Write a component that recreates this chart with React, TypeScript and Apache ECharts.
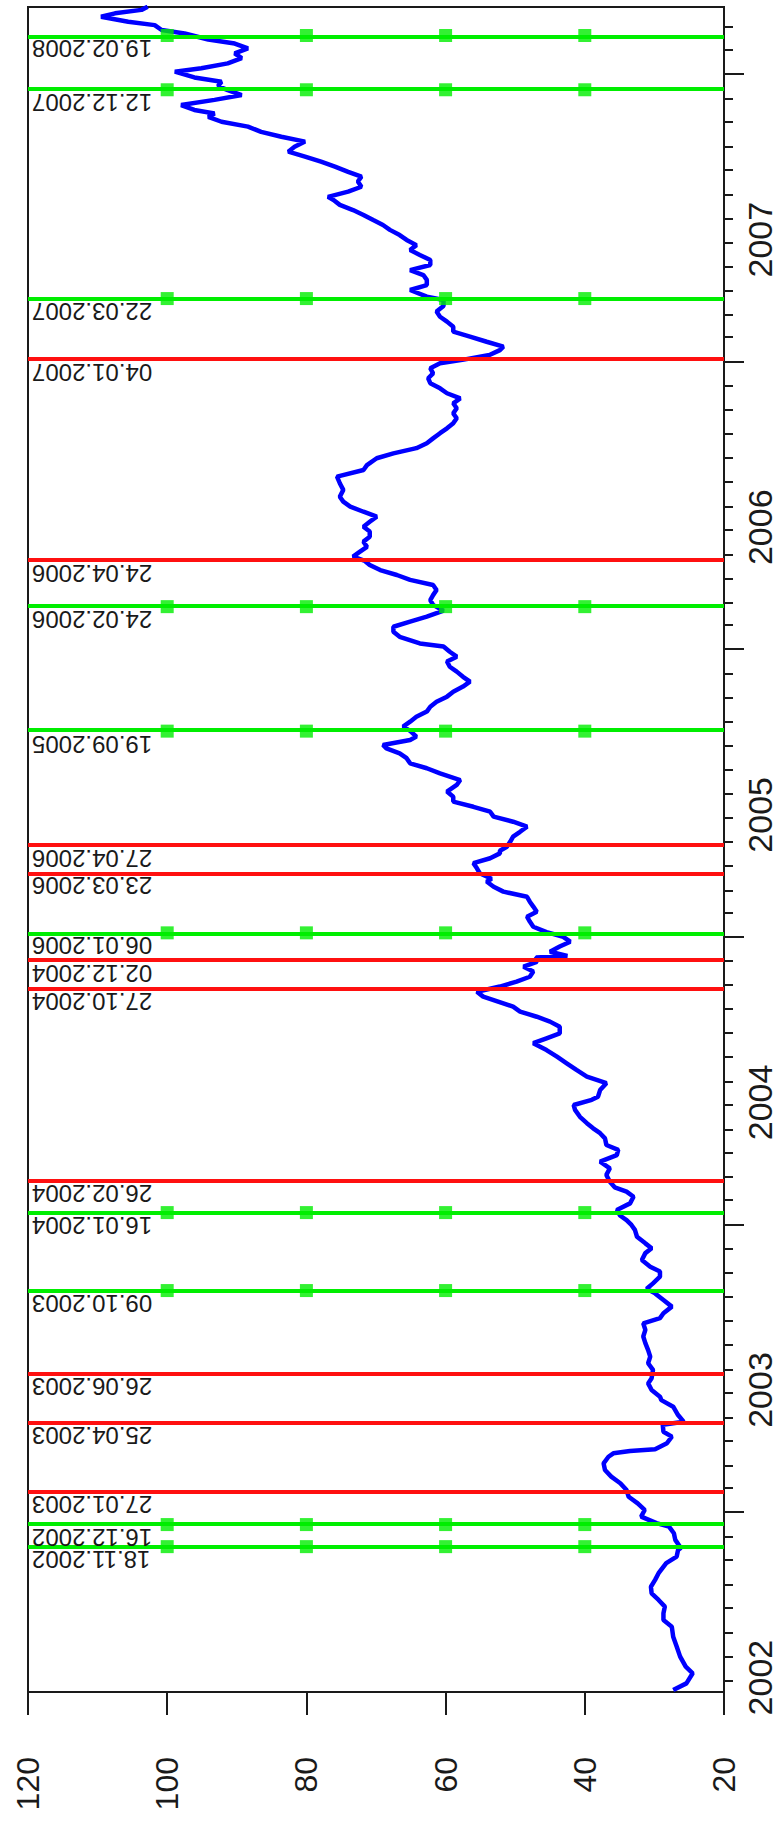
import React, { useEffect, useRef } from "react";
import * as echarts from "echarts";

// ---- axis content ----
const valueMin = 20;
const valueMax = 120;
const valueStep = 20;
const yearLabels = ["2002", "2003", "2004", "2005", "2006", "2007"];
const timeMin = 2002.374; // decimal years, bottom edge of the plot
const timeMax = 2008.233; // decimal years, top edge of the plot

// ---- event lines (position dates) and their printed labels ----
const greenDates = ["18.11.2002", "16.12.2002", "09.10.2003", "16.01.2004", "06.01.2005", "19.09.2005", "24.02.2006", "22.03.2007", "12.12.2007", "19.02.2008"];
const greenLabels = ["18.11.2002", "16.12.2002", "09.10.2003", "16.01.2004", "06.01.2006", "19.09.2005", "24.02.2006", "22.03.2007", "12.12.2007", "19.02.2008"];
const redDates = ["27.01.2003", "25.04.2003", "26.06.2003", "26.02.2004", "27.10.2004", "02.12.2004", "23.03.2005", "27.04.2005", "24.04.2006", "04.01.2007"];
const redLabels = ["27.01.2003", "25.04.2003", "26.06.2003", "26.02.2004", "27.10.2004", "02.12.2004", "23.03.2006", "27.04.2006", "24.04.2006", "04.01.2007"];
const markerValues = [100, 80, 60, 40];

// ---- price series (decimal year, value) ----
const priceTimes = [
  2002.381, 2002.404, 2002.439, 2002.462, 2002.497, 2002.532, 2002.566, 2002.601, 2002.624, 2002.648,
  2002.671, 2002.694, 2002.717, 2002.740, 2002.764, 2002.787, 2002.822, 2002.845, 2002.868, 2002.875,
  2002.903, 2002.926, 2002.949, 2002.961, 2002.984, 2003.007, 2003.030, 2003.053, 2003.076, 2003.100,
  2003.123, 2003.146, 2003.169, 2003.192, 2003.204, 2003.212, 2003.218, 2003.239, 2003.262, 2003.279,
  2003.303, 2003.314, 2003.337, 2003.366, 2003.389,
  2003.401, 2003.424, 2003.447, 2003.465, 2003.494, 2003.517, 2003.540, 2003.563, 2003.587, 2003.610,
  2003.633, 2003.656, 2003.674, 2003.691, 2003.714, 2003.737, 2003.760, 2003.776, 2003.795, 2003.818,
  2003.836, 2003.853, 2003.876, 2003.900, 2003.917, 2003.934, 2003.957, 2003.981, 2003.998, 2004.015,
  2004.030, 2004.050, 2004.073, 2004.096, 2004.114, 2004.129, 2004.148, 2004.172, 2004.195, 2004.218,
  2004.241, 2004.259, 2004.276, 2004.299, 2004.317, 2004.334, 2004.352, 2004.374, 2004.398, 2004.415,
  2004.433,
  2004.444, 2004.467, 2004.491, 2004.514, 2004.537, 2004.560, 2004.583, 2004.606, 2004.630, 2004.647,
  2004.664, 2004.687, 2004.705, 2004.722, 2004.740, 2004.757, 2004.780, 2004.792, 2004.809, 2004.827,
  2004.844, 2004.861, 2004.879, 2004.896, 2004.913, 2004.928, 2004.933, 2004.948, 2004.966, 2004.983,
  2005.000, 2005.016, 2005.035, 2005.053, 2005.070, 2005.087, 2005.105, 2005.122, 2005.139, 2005.157,
  2005.174, 2005.192, 2005.202, 2005.221, 2005.238, 2005.256, 2005.273, 2005.290, 2005.299, 2005.313,
  2005.331, 2005.348, 2005.365, 2005.383, 2005.400, 2005.418, 2005.435, 2005.452, 2005.470,
  2005.487, 2005.505, 2005.528, 2005.545, 2005.568, 2005.586, 2005.603, 2005.621, 2005.638, 2005.655,
  2005.667, 2005.684, 2005.696, 2005.716, 2005.731, 2005.748, 2005.765, 2005.783, 2005.800, 2005.817,
  2005.835, 2005.852, 2005.870, 2005.887, 2005.904, 2005.922, 2005.939, 2005.957, 2005.974, 2005.991,
  2006.009, 2006.020, 2006.043, 2006.061, 2006.078, 2006.096, 2006.113, 2006.125, 2006.134, 2006.154,
  2006.171, 2006.188, 2006.206, 2006.223, 2006.241, 2006.258, 2006.275, 2006.293, 2006.307, 2006.322,
  2006.339, 2006.356, 2006.374, 2006.391, 2006.409, 2006.426, 2006.443, 2006.461, 2006.478, 2006.496,
  2006.513,
  2006.530, 2006.554, 2006.577, 2006.600, 2006.623, 2006.640, 2006.664, 2006.681, 2006.699, 2006.716,
  2006.733, 2006.751, 2006.768, 2006.786, 2006.803, 2006.820, 2006.838, 2006.855, 2006.872, 2006.890,
  2006.907, 2006.925, 2006.942, 2006.959, 2006.977, 2006.994, 2007.006, 2007.023, 2007.040, 2007.052,
  2007.069, 2007.087, 2007.104, 2007.121, 2007.139, 2007.156, 2007.174, 2007.193, 2007.214, 2007.226,
  2007.249, 2007.266, 2007.284, 2007.301, 2007.318, 2007.336, 2007.353, 2007.371, 2007.388, 2007.405,
  2007.423, 2007.440, 2007.458, 2007.475, 2007.492, 2007.510, 2007.527, 2007.545, 2007.562,
  2007.573, 2007.591, 2007.608, 2007.626, 2007.643, 2007.660, 2007.678, 2007.695, 2007.713, 2007.730,
  2007.747, 2007.765, 2007.782, 2007.799, 2007.817, 2007.834, 2007.851, 2007.863, 2007.875, 2007.892,
  2007.910, 2007.927, 2007.944, 2007.958, 2007.973, 2007.988, 2008.008, 2008.020, 2008.037, 2008.055,
  2008.072, 2008.089, 2008.106, 2008.120, 2008.141, 2008.153, 2008.170, 2008.182, 2008.199, 2008.211,
  2008.223, 2008.234,
];
const priceValues = [
  27.3, 25.4, 24.5, 25.5, 26.3, 26.8, 27.3, 27.5, 28.7, 28.7,
  28.5, 29.4, 30.4, 30.5, 29.9, 29.4, 28.3, 26.8, 26.6, 26.2,
  27.0, 27.2, 27.9, 29.7, 31.9, 31.4, 32.4, 33.7, 34.0, 34.9,
  36.2, 37.1, 37.3, 36.6, 35.9, 33.5, 29.9, 28.2, 27.5, 28.7,
  28.8, 25.8, 26.6, 27.3, 29.0,
  29.2, 30.4, 30.9, 30.4, 30.2, 30.9, 30.6, 30.9, 31.3, 31.6,
  31.3, 31.6, 29.2, 28.7, 27.5, 28.7, 29.9, 31.1, 30.2, 29.2,
  29.2, 30.6, 31.8, 31.3, 30.4, 31.3, 32.5, 32.8, 33.3, 34.0,
  34.9, 35.4, 33.5, 33.0, 34.0, 35.7, 36.4, 36.9, 36.4, 37.8,
  35.4, 35.2, 36.9, 37.1, 37.8, 38.8, 39.7, 40.7, 41.4, 41.6,
  39.0,
  38.1, 37.8, 36.9, 39.7, 41.2, 42.6, 44.0, 45.5, 47.4, 45.5,
  43.6, 43.6, 45.0, 46.9, 49.3, 50.3, 53.1, 54.6, 55.5, 52.2,
  49.8, 47.9, 47.4, 48.8, 46.9, 47.0, 42.5, 45.0, 43.6, 42.1,
  43.1, 45.5, 47.4, 47.9, 48.3, 46.9, 47.4, 47.9, 48.3, 51.7,
  53.1, 54.1, 53.4, 55.1, 55.5, 56.0, 53.6, 52.2, 52.2, 51.2,
  50.7, 50.3, 49.3, 48.3, 50.3, 53.1, 53.6, 56.0, 58.9,
  58.9, 59.8, 58.4, 57.9, 60.8, 62.7, 65.1, 65.6, 66.6, 68.5,
  69.0, 65.1, 64.2, 65.1, 66.1, 65.1, 64.2, 62.7, 62.2, 61.3,
  59.8, 58.9, 57.5, 56.5, 57.5, 58.4, 59.4, 59.8, 58.4, 59.4,
  60.3, 63.7, 66.6, 67.5, 67.5, 65.1, 62.7, 61.3, 60.3, 61.8,
  62.2, 61.8, 61.3, 61.8, 65.1, 67.0, 69.4, 70.9, 71.6, 73.3,
  72.3, 71.3, 71.8, 70.9, 70.9, 71.8, 70.9, 69.9, 71.8, 73.7,
  74.7,
  75.2, 74.7, 75.2, 75.6, 71.8, 71.3, 69.9, 67.5, 64.2, 62.7,
  61.8, 60.8, 59.8, 58.9, 58.4, 58.9, 58.4, 58.9, 57.9, 59.8,
  60.8, 62.2, 62.5, 61.8, 62.2, 60.8, 57.6, 53.7, 52.2, 51.7,
  54.1, 56.5, 58.9, 58.9, 59.8, 60.8, 61.3, 60.3, 60.3, 62.7,
  65.1, 62.7, 62.7, 63.2, 65.1, 62.2, 62.2, 63.7, 65.1, 64.2,
  65.6, 66.6, 68.0, 69.0, 70.4, 71.8, 73.3, 75.2, 76.1,
  76.9, 74.0, 72.1, 72.6, 72.1, 74.0, 75.9, 77.9, 80.2, 82.6,
  81.7, 80.2, 83.6, 86.5, 88.4, 92.2, 94.1, 93.2, 96.1, 98.0,
  93.2, 89.3, 91.3, 92.7, 92.2, 96.1, 98.9, 95.1, 91.3, 89.3,
  90.3, 88.4, 90.3, 94.1, 97.5, 100.8, 101.8, 105.6, 109.5, 107.5,
  103.7, 102.8,
];

// ---- helpers ----
function yearSpan(y: number) {
  return Date.UTC(y + 1, 0, 1) - Date.UTC(y, 0, 1);
}
function toYear(s: string): number {
  const [d, m, y] = s.split(".").map(Number);
  return y + (Date.UTC(y, m - 1, d) - Date.UTC(y, 0, 1)) / yearSpan(y);
}
function monthTicks(): number[] {
  const out: number[] = [];
  for (let y = 2002; y <= 2008; y++) {
    for (let m = 0; m < 12; m++) {
      const t = y + (Date.UTC(y, m, 1) - Date.UTC(y, 0, 1)) / yearSpan(y);
      if (t > timeMin && t < timeMax) out.push(t);
    }
  }
  return out;
}
function yearTicks(): number[] {
  const out: number[] = [];
  for (let y = 2002; y <= 2009; y++) if (y > timeMin && y < timeMax) out.push(y);
  return out;
}

const FONT = "'Liberation Sans', Arial, sans-serif";
const INK = "#1a1a1a";
const GREEN = "#00ee00";
const RED = "#ff1010";
const BLUE = "#0000ff";

export default function App() {
  const ref = useRef<HTMLDivElement | null>(null);

  useEffect(() => {
    if (!ref.current) return;
    const chart = echarts.init(ref.current, null, { renderer: "svg" });

    const events = [
      ...greenDates.map((d, i) => ({ t: toYear(d), label: greenLabels[i] })),
      ...redDates.map((d, i) => ({ t: toYear(d), label: redLabels[i] })),
    ];
    const markerData: number[][] = [];
    greenDates.forEach((d) => markerValues.forEach((v) => markerData.push([v, toYear(d)])));

    const option: any = {
      animation: false,
      backgroundColor: "#ffffff",
      grid: {
        left: 28,
        right: 55,
        top: 7,
        bottom: 137,
        show: true,
        borderColor: INK,
        borderWidth: 2,
        backgroundColor: "transparent",
      },
      xAxis: {
        type: "value",
        min: valueMin,
        max: valueMax,
        interval: valueStep,
        inverse: true,
        position: "bottom",
        axisLine: { show: false },
        axisTick: { show: true, length: 23, lineStyle: { color: INK, width: 2 } },
        axisLabel: { rotate: 90, margin: 65, fontSize: 32, color: INK, fontFamily: FONT },
        splitLine: { show: false },
      },
      yAxis: [
        {
          type: "value",
          min: timeMin,
          max: timeMax,
          position: "right",
          axisLine: { show: true, lineStyle: { color: INK, width: 2 } },
          axisTick: { show: true, length: 9, customValues: monthTicks(), lineStyle: { color: INK, width: 2 } },
          axisLabel: {
            show: true,
            customValues: yearLabels.map((s) => Number(s) + 0.424),
            formatter: (v: number) => yearLabels[Math.floor(v) - Number(yearLabels[0])],
            rotate: 90,
            margin: 19,
            fontSize: 34,
            color: INK,
            fontFamily: FONT,
          },
          splitLine: { show: false },
        },
        {
          type: "value",
          min: timeMin,
          max: timeMax,
          position: "right",
          axisLine: { show: false },
          axisTick: { show: true, length: 20, customValues: yearTicks(), lineStyle: { color: INK, width: 2 } },
          axisLabel: { show: false },
          splitLine: { show: false },
        },
      ],
      series: [
        {
          type: "line",
          name: "price",
          data: priceTimes.map((t, i) => [priceValues[i], t]),
          showSymbol: false,
          lineStyle: { color: BLUE, width: 4.5 },
          z: 2,
        },
        {
          type: "line",
          name: "red",
          data: [],
          markLine: {
            silent: true,
            symbol: "none",
            label: { show: false },
            lineStyle: { color: RED, width: 4, type: "solid" },
            data: redDates.map((d) => ({ yAxis: toYear(d) })),
          },
          z: 3,
        },
        {
          type: "line",
          name: "green",
          data: [],
          markLine: {
            silent: true,
            symbol: "none",
            label: { show: false },
            lineStyle: { color: GREEN, width: 4, type: "solid" },
            data: greenDates.map((d) => ({ yAxis: toYear(d) })),
          },
          z: 3,
        },
        {
          type: "scatter",
          name: "markers",
          data: markerData,
          symbol: "rect",
          symbolSize: 13,
          itemStyle: { color: GREEN },
          z: 4,
        },
        {
          type: "custom",
          name: "labels",
          data: events.map((e) => [valueMax, e.t]),
          encode: { x: 0, y: 1 },
          z: 5,
          renderItem: (params: any, api: any) => {
            const p = api.coord([api.value(0), api.value(1)]);
            return {
              type: "text",
              x: p[0] + 4,
              y: p[1] + 1,
              rotation: Math.PI,
              style: {
                text: events[params.dataIndex].label,
                fontSize: 24,
                fontFamily: FONT,
                fill: INK,
                align: "right",
                verticalAlign: "bottom",
              },
            };
          },
        },
      ],
    };

    chart.setOption(option);
    return () => chart.dispose();
  }, []);

  return <div ref={ref} style={{ position: "absolute", left: 0, top: 0, width: 779, height: 1829 }} />;
}
